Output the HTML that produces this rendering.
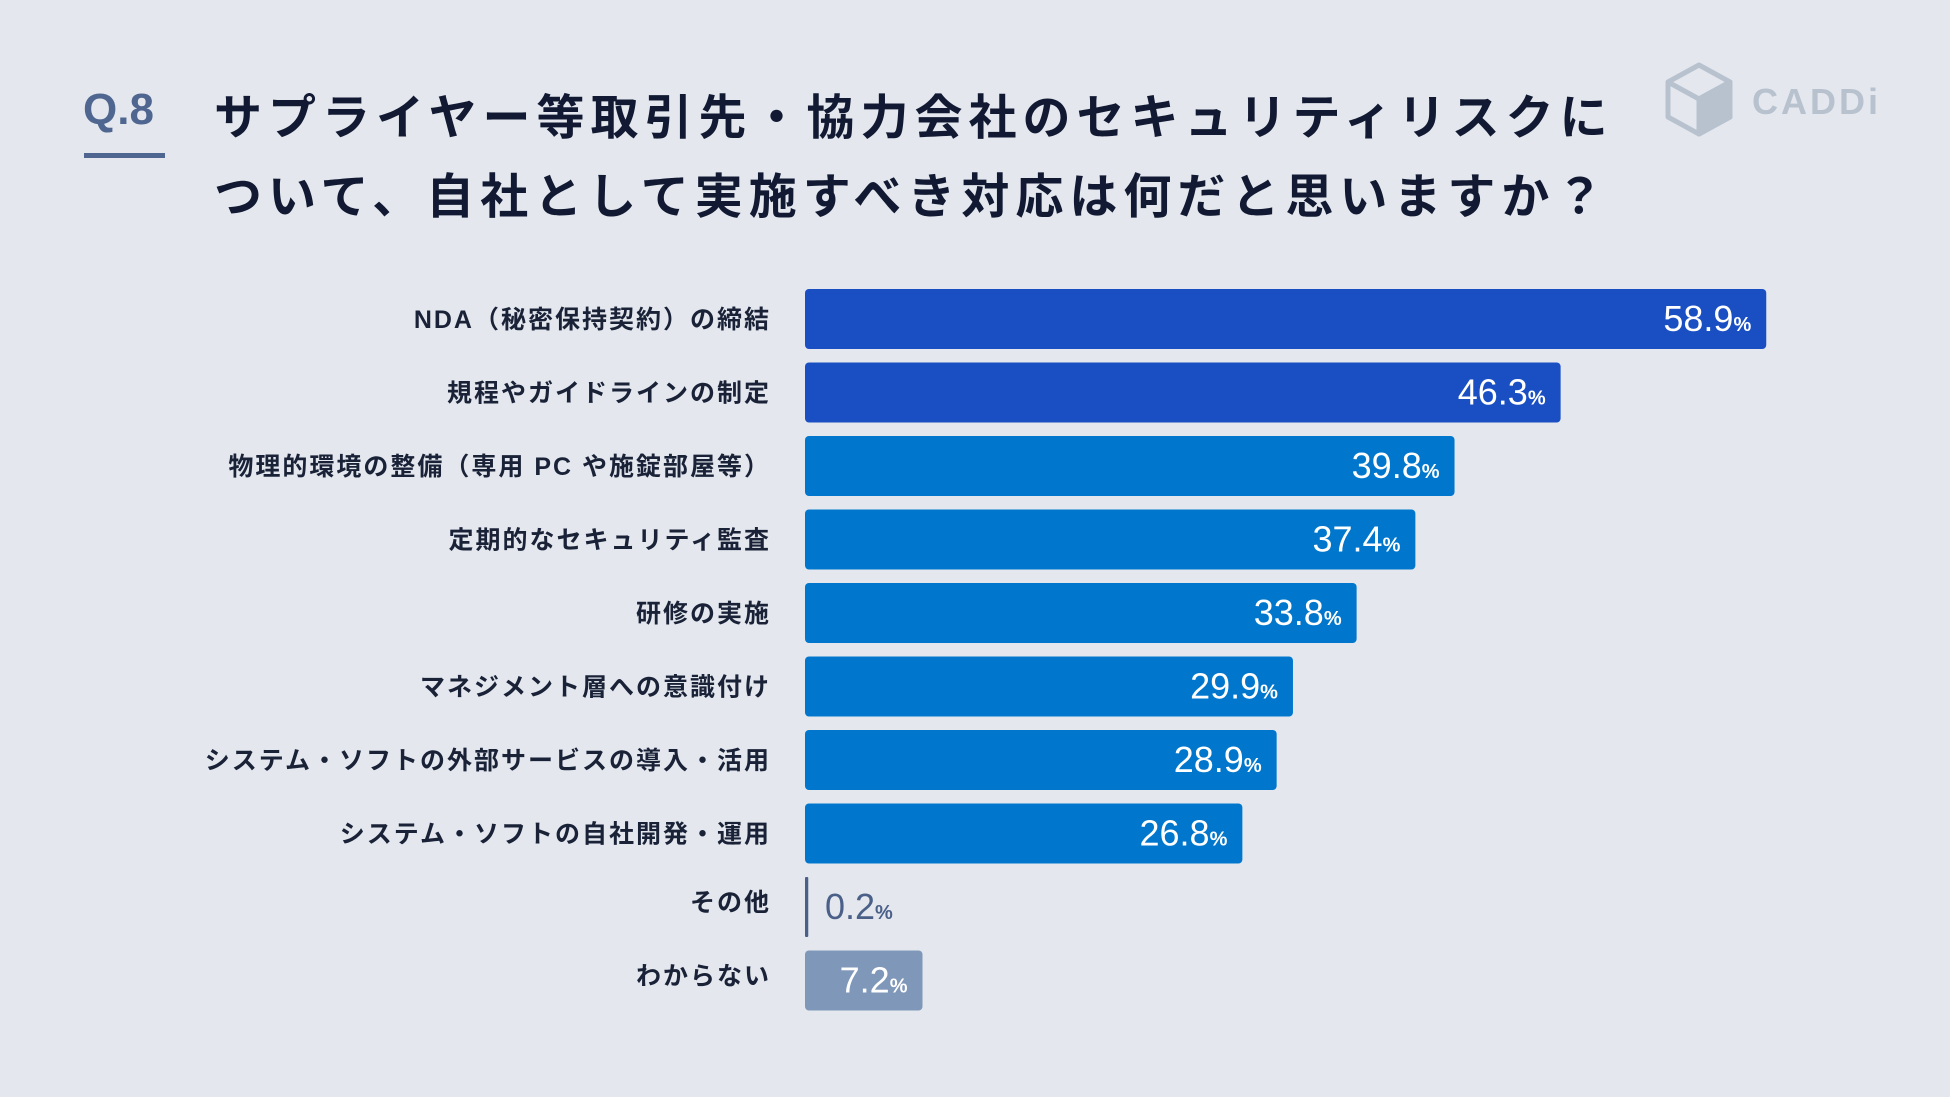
<!DOCTYPE html>
<html><head><meta charset="utf-8">
<style>
html,body{margin:0;padding:0;background:#e4e8ee;}
svg{display:block;font-family:"Liberation Sans","Noto Sans CJK JP",sans-serif;}
</style></head>
<body>
<svg id="chart" width="1950" height="1097" viewBox="0 0 1950 1097">
<rect x="0" y="0" width="1950" height="1097" fill="#e4e8ee"/>
<text x="83" y="124" font-size="44" font-weight="bold" fill="#4f6690">Q.8</text>
<rect x="84" y="153" width="81" height="5" fill="#4f6690"/>
<text x="214" y="134" font-size="48" font-weight="bold" fill="#121a33" letter-spacing="6">サプライヤー等取引先・協力会社のセキュリティリスクに</text>
<text x="214" y="213" font-size="48" font-weight="bold" fill="#121a33" letter-spacing="6">ついて、自社として実施すべき対応は何だと思いますか？</text>
<g fill="none" stroke="#b8c2cf" stroke-width="5" stroke-linejoin="round">
<polygon points="1699,65 1730,82 1730,117 1699,134 1668,117 1668,82"/>
<polyline points="1668,82 1699,99 1730,82"/>
<line x1="1699" y1="99" x2="1699" y2="134"/>
<polygon points="1699,99 1730,82 1730,117 1699,134" fill="#b8c2cf"/>
</g>
<text x="1752" y="114" font-size="36" font-weight="bold" fill="#b8c2cf" letter-spacing="3">CADDi</text>
<g id="bars"></g>
</svg>
<script>
const categories=["NDA（秘密保持契約）の締結","規程やガイドラインの制定","物理的環境の整備（専用 PC や施錠部屋等）","定期的なセキュリティ監査","研修の実施","マネジメント層への意識付け","システム・ソフトの外部サービスの導入・活用","システム・ソフトの自社開発・運用","その他","わからない"];
const values=[58.9,46.3,39.8,37.4,33.8,29.9,28.9,26.8,0.2,7.2];
const colorGroups=["dark","dark","mid","mid","mid","mid","mid","mid","line","gray"];
const palette={dark:"#1a4fc4",mid:"#0077cc",line:"#4b6088",gray:"#7f97b8"};
const x0=805, pxPer=16.32, top0=289, pitch=73.5, barH=60;
const xs=v=>x0+v*pxPer;
const ys=i=>top0+i*pitch;
const NS="http://www.w3.org/2000/svg";
const g=document.getElementById('bars');
categories.forEach((c,i)=>{
  const y=ys(i), w=xs(values[i])-x0;
  const r=document.createElementNS(NS,'rect');
  
  
  r.setAttribute('x',x0);r.setAttribute('y',y);
  r.setAttribute('width',Math.max(w,2.5));r.setAttribute('height',barH);
  r.setAttribute('rx',colorGroups[i]==='line'?1:4);
  r.setAttribute('fill',palette[colorGroups[i]]);
  g.appendChild(r);
  const l=document.createElementNS(NS,'text');
  
  
  l.setAttribute('x',771);l.setAttribute('y',y+barH/2+9-(i>=8?5:0));
  l.setAttribute('text-anchor','end');l.setAttribute('font-size','25');
  l.setAttribute('letter-spacing','2');
  l.setAttribute('font-weight','bold');l.setAttribute('fill','#1a2238');
  l.textContent=c;
  g.appendChild(l);
  const t=document.createElementNS(NS,'text');
  
  
  const inside=w>60;
  t.setAttribute('y',y+barH/2+12);
  if(inside){t.setAttribute('x',xs(values[i])-15);t.setAttribute('text-anchor','end');t.setAttribute('fill','#ffffff');}
  else{t.setAttribute('x',x0+20);t.setAttribute('text-anchor','start');t.setAttribute('fill','#4b6088');}
  t.setAttribute('font-size','36');
  t.appendChild(document.createTextNode(values[i].toFixed(1)));
  const p=document.createElementNS(NS,'tspan');
  p.setAttribute('font-size','20');p.setAttribute('font-weight','bold');
  p.textContent='%';
  t.appendChild(p);
  g.appendChild(t);
});
</script>
</body></html>
